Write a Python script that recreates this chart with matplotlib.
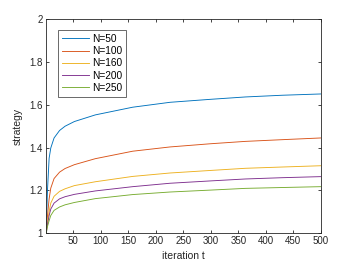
import matplotlib
matplotlib.use("Agg")
import matplotlib.pyplot as plt

plt.rcParams['font.family'] = ['Liberation Sans', 'DejaVu Sans']

t_vals = [1, 2, 3, 6, 9, 15, 25, 35, 52, 90, 158, 226, 300, 363, 430, 500]
n50  = [1.0, 1.12, 1.20, 1.350, 1.398, 1.445, 1.480, 1.500, 1.522, 1.553, 1.589, 1.612, 1.626, 1.637, 1.645, 1.651]
n100 = [1.0, 1.05, 1.08, 1.160, 1.210, 1.255, 1.285, 1.302, 1.320, 1.348, 1.383, 1.403, 1.418, 1.429, 1.437, 1.445]
n160 = [1.0, 1.03, 1.05, 1.100, 1.140, 1.172, 1.195, 1.207, 1.222, 1.240, 1.265, 1.281, 1.293, 1.303, 1.309, 1.315]
n200 = [1.0, 1.025, 1.04, 1.082, 1.112, 1.140, 1.160, 1.170, 1.181, 1.197, 1.217, 1.233, 1.244, 1.253, 1.259, 1.264]
n250 = [1.0, 1.02, 1.03, 1.058, 1.082, 1.106, 1.122, 1.132, 1.143, 1.161, 1.180, 1.192, 1.201, 1.209, 1.213, 1.217]
series = [n50, n100, n160, n200, n250]
labels = ['N=50', 'N=100', 'N=160', 'N=200', 'N=250']
colors = ['#0072BD', '#D95319', '#EDB120', '#7E2F8E', '#77AC30']

xticks = [50, 100, 150, 200, 250, 300, 350, 400, 450, 500]
yticks = [1, 1.2, 1.4, 1.6, 1.8, 2]
yticklabels = ['1', '1.2', '1.4', '1.6', '1.8', '2']

fig = plt.figure(figsize=(3.54, 2.66), dpi=100)
ax = fig.add_axes([0.131, 0.124, 0.775, 0.803])
for s, lab, c in zip(series, labels, colors):
    ax.plot(t_vals, s, color=c, lw=0.65, label=lab)

ax.set_xlim(1, 500)
ax.set_ylim(1, 2)
ax.set_xticks(xticks)
ax.set_yticks(yticks)
ax.set_yticklabels(yticklabels)
ax.tick_params(direction='in', length=2.5, width=0.6, labelsize=7, colors='#262626',
               top=True, right=True, pad=2.5)
for sp in ax.spines.values():
    sp.set_linewidth(0.6)
    sp.set_color('#262626')
ax.set_xlabel('iteration t', fontsize=7.5, color='#262626', labelpad=3)
ax.set_ylabel('strategy', fontsize=7.5, color='#262626', labelpad=5)

leg = ax.legend(loc='upper left', fontsize=7.3, frameon=True, fancybox=False,
                edgecolor='#262626', handlelength=2.6, handletextpad=0.3,
                labelspacing=0.22, borderpad=0.4, bbox_to_anchor=(0.025, 0.975))
leg.get_frame().set_linewidth(0.6)

fig.savefig('out.png', dpi=100)
